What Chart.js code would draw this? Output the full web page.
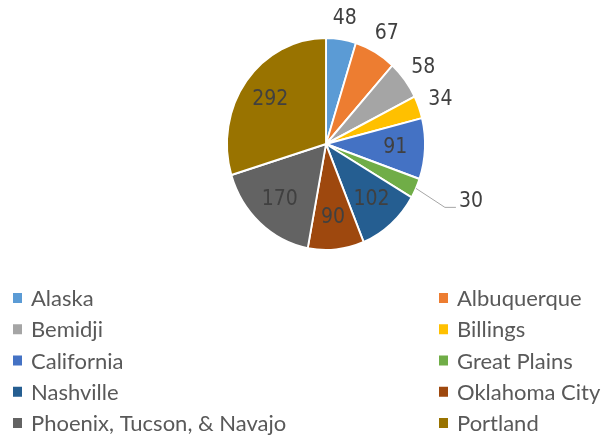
<!DOCTYPE html>
<html>
<head>
<meta charset="utf-8">
<script src="https://cdn.jsdelivr.net/npm/chart.js@4/dist/chart.umd.min.js"></script>
<style>
  html, body { margin: 0; padding: 0; background: #fff; }
  #wrap { position: relative; width: 612px; height: 439px; }
</style>
</head>
<body>
<div id="wrap"><canvas id="pieChart" width="612" height="439"></canvas></div>
<script>
// Service units and their counts
const areas = ['Alaska', 'Albuquerque', 'Bemidji', 'Billings', 'California',
    'Great Plains', 'Nashville', 'Oklahoma City', 'Phoenix, Tucson, & Navajo', 'Portland'];
const counts = [48, 67, 58, 34, 91, 30, 102, 90, 170, 292];
const colors = ['#5B9BD5', '#ED7D31', '#A5A5A5', '#FFC000', '#4472C4',
    '#70AD47', '#255E91', '#9E480E', '#636363', '#997300'];

const FONT = 'Lato, "Open Sans", sans-serif';
const NUM_FONT = '"Liberation Sans Narrow", "DejaVu Sans Condensed", Lato, sans-serif';
const SQUASH = 0.934; // the source pie is a bit narrower than it is tall

// draw the arcs horizontally squashed around the pie centre
const squashPlugin = {
    id: 'squash',
    beforeDatasetsDraw(chart) {
        const arc = chart.getDatasetMeta(0).data[0];
        const ctx = chart.ctx;
        ctx.save();
        ctx.translate(arc.x, 0);
        ctx.scale(SQUASH, 1);
        ctx.translate(-arc.x, 0);
    },
    afterDatasetsDraw(chart) {
        chart.ctx.restore();
    }
};

// Data labels: big slices inside, small ones outside (Great Plains gets a leader line)
const labelPlugin = {
    id: 'sliceLabels',
    afterDraw(chart) {
        const ctx = chart.ctx;
        const meta = chart.getDatasetMeta(0);
        ctx.save();
        ctx.font = '21px ' + NUM_FONT;
        ctx.fillStyle = '#404040';
        ctx.textAlign = 'center';
        ctx.textBaseline = 'middle';
        meta.data.forEach((arc, i) => {
            const p = arc.getProps(['x', 'y', 'startAngle', 'endAngle', 'outerRadius']);
            const mid = (p.startAngle + p.endAngle) / 2;
            const c = Math.cos(mid), s = Math.sin(mid);
            const rx = p.outerRadius * SQUASH, ry = p.outerRadius;
            const v = counts[i];
            if (v >= 90) {
                ctx.fillText(v, p.x + c * rx * 0.7, p.y + s * ry * 0.7);
                return;
            }
            const ex = p.x + c * rx, ey = p.y + s * ry;
            if (areas[i] === 'Great Plains') {
                ctx.strokeStyle = '#A6A6A6';
                ctx.lineWidth = 1;
                ctx.beginPath();
                ctx.moveTo(ex, ey);
                ctx.lineTo(ex + 29, ey + 19);
                ctx.lineTo(ex + 40, ey + 19);
                ctx.stroke();
                ctx.textAlign = 'left';
                ctx.fillText(v, ex + 43, ey + 13);
                ctx.textAlign = 'center';
            } else {
                ctx.fillText(v, ex + c * 23, ey + s * 21);
            }
        });
        ctx.restore();
    }
};

// Two-column legend under the pie
const legendPlugin = {
    id: 'twoColLegend',
    afterDraw(chart) {
        const ctx = chart.ctx;
        ctx.save();
        ctx.font = '22px ' + FONT;
        ctx.textBaseline = 'middle';
        areas.forEach((name, i) => {
            const x = i % 2 === 0 ? 13 : 439;
            const y = 298 + Math.floor(i / 2) * 31.25;
            ctx.fillStyle = colors[i];
            ctx.fillRect(x, y - 5, 9, 10);
            ctx.fillStyle = '#595959';
            ctx.fillText(name, x + 18, y + 1);
        });
        ctx.restore();
    }
};

const ctx = document.getElementById('pieChart').getContext('2d');
new Chart(ctx, {
    type: 'pie',
    data: {
        labels: areas,
        datasets: [{
            data: counts,
            backgroundColor: colors,
            borderColor: '#ffffff',
            borderWidth: 2,
            hoverOffset: 0
        }]
    },
    options: {
        responsive: false,
        animation: false,
        layout: {
            padding: { left: 219, right: 179, top: 37, bottom: 188 }
        },
        plugins: {
            legend: { display: false },
            tooltip: { enabled: false }
        }
    },
    plugins: [squashPlugin, labelPlugin, legendPlugin]
});
</script>
</body>
</html>
